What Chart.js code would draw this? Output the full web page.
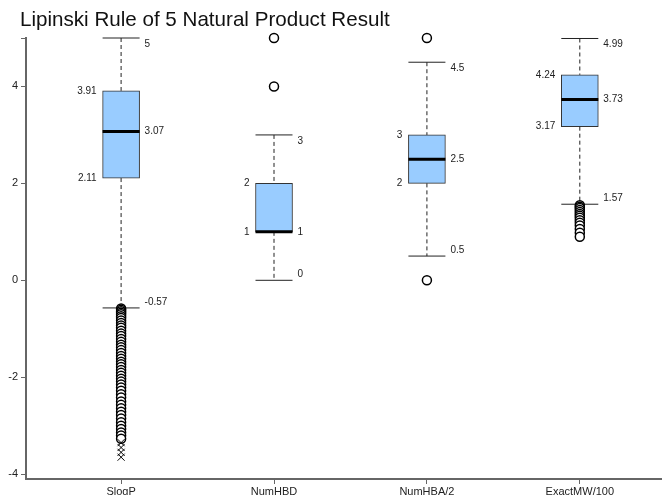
<!DOCTYPE html>
<html>
<head>
<meta charset="utf-8">
<script src="https://cdn.jsdelivr.net/npm/chart.js@4"></script>
<style>
  html, body { margin: 0; padding: 0; background: #fff; }
  #wrap { width: 667px; height: 495px; }
</style>
</head>
<body>
<div id="wrap"><canvas id="boxChart" width="667" height="495"></canvas></div>
<script>
// box statistics per category
const categories = ['SlogP', 'NumHBD', 'NumHBA/2', 'ExactMW/100'];
const whiskerHigh = [5, 3, 4.5, 4.99];
const q3 = [3.91, 2, 3, 4.24];
const median = [3.07, 1, 2.5, 3.73];
const q1 = [2.11, 1, 2, 3.17];
const whiskerLow = [-0.57, 0, 0.5, 1.57];

// outliers (circles) and extreme points (crosses)
const outlierSlogP = [-0.58, -0.61, -0.64, -0.67, -0.7, -0.74, -0.78, -0.83, -0.88, -0.93, -0.98, -1.04, -1.1, -1.15,
  -1.21, -1.27, -1.33, -1.38, -1.44, -1.5, -1.56, -1.62, -1.68, -1.73, -1.79, -1.85, -1.91, -1.97, -2.03, -2.09,
  -2.15, -2.21, -2.28, -2.35, -2.42, -2.5, -2.57, -2.64, -2.71, -2.78, -2.85, -2.93, -3.0, -3.07, -3.14, -3.2, -3.27];
const outlierNumHBD = [4, 5];
const outlierNumHBA = [5, 0];
const outlierExactMW = [1.55, 1.52, 1.49, 1.45, 1.41, 1.37, 1.33, 1.29, 1.24, 1.19, 1.13, 1.06, 0.98, 0.9];
const extremeSlogP = [-3.35, -3.45, -3.55, -3.65];

const yTicks = [-4, -2, 0, 2, 4, 5];
const halfBox = 0.121; // half box width in category units

const outliers = [outlierSlogP, outlierNumHBD, outlierNumHBA, outlierExactMW];

const whiskerPts = [], capPts = [], medianPts = [], circlePts = [], crossPts = [];
categories.forEach((c, i) => {
  const x = i + 1;
  whiskerPts.push({x, y: whiskerHigh[i]}, {x, y: q3[i]}, {x, y: null}, {x, y: q1[i]}, {x, y: whiskerLow[i]}, {x, y: null});
  capPts.push({x: x - halfBox, y: whiskerHigh[i]}, {x: x + halfBox, y: whiskerHigh[i]}, {x, y: null},
              {x: x - halfBox, y: whiskerLow[i]}, {x: x + halfBox, y: whiskerLow[i]}, {x, y: null});
  medianPts.push({x: x - halfBox, y: median[i]}, {x: x + halfBox, y: median[i]}, {x, y: null});
  outliers[i].forEach(v => circlePts.push({x, y: v}));
});
extremeSlogP.forEach(v => crossPts.push({x: 1, y: v}));

const FONT = 'Arial, "Liberation Sans", sans-serif';

const valueLabels = {
  id: 'valueLabels',
  afterDatasetsDraw(chart) {
    const {ctx, scales: {x, y}} = chart;
    ctx.save();
    ctx.font = '10px ' + FONT;
    ctx.fillStyle = '#222';
    ctx.textBaseline = 'middle';
    categories.forEach((c, i) => {
      const right = x.getPixelForValue(i + 1 + halfBox) + 5;
      const left = x.getPixelForValue(i + 1 - halfBox) - 6;
      ctx.textAlign = 'left';
      ctx.fillText(String(whiskerHigh[i]), right, y.getPixelForValue(whiskerHigh[i]) + 6);
      ctx.fillText(String(median[i]), right, y.getPixelForValue(median[i]));
      ctx.fillText(String(whiskerLow[i]), right, y.getPixelForValue(whiskerLow[i]) - 6);
      ctx.textAlign = 'right';
      ctx.fillText(String(q3[i]), left, y.getPixelForValue(q3[i]));
      ctx.fillText(String(q1[i]), left, y.getPixelForValue(q1[i]));
    });
    ctx.restore();
  }
};

const titlePlugin = {
  id: 'leftTitle',
  afterDraw(chart) {
    const ctx = chart.ctx;
    ctx.save();
    ctx.font = '20.6px ' + FONT;
    ctx.fillStyle = '#111';
    ctx.textAlign = 'left';
    ctx.textBaseline = 'alphabetic';
    ctx.fillText('Lipinski Rule of 5 Natural Product Result', 20, 26);
    ctx.restore();
  }
};

new Chart(document.getElementById('boxChart'), {
  type: 'bar',
  data: {
    datasets: [
      { type: 'scatter', data: crossPts, pointStyle: 'crossRot', pointRadius: 5, borderColor: '#000', borderWidth: 1, clip: false, order: 0 },
      { type: 'scatter', data: circlePts, pointStyle: 'circle', pointRadius: 4.5, backgroundColor: '#fff', borderColor: '#000', borderWidth: 1.5, clip: false, order: 1 },
      { type: 'line', data: medianPts, borderColor: '#000', borderWidth: 3, pointRadius: 0, spanGaps: false, clip: false, order: 2 },
      { type: 'line', data: capPts, borderColor: '#222', borderWidth: 1, pointRadius: 0, spanGaps: false, clip: false, order: 3 },
      { type: 'line', data: whiskerPts, borderColor: '#222', borderWidth: 1, borderDash: [4, 3], pointRadius: 0, spanGaps: false, clip: false, order: 4 },
      { type: 'bar', data: categories.map((c, i) => ({x: i + 1, y: [q1[i], q3[i]]})),
        backgroundColor: '#99CCFF', borderColor: '#333', borderWidth: 1, borderSkipped: false, barThickness: 37, order: 5 },
    ]
  },
  options: {
    responsive: false,
    animation: false,
    events: [],
    layout: { padding: { top: 38, right: 0, bottom: 0, left: 0 } },
    plugins: { legend: { display: false }, tooltip: { enabled: false }, title: { display: false } },
    scales: {
      x: {
        type: 'linear', min: 0.378, max: 4.531, offset: false,
        afterBuildTicks: s => { s.ticks = [1, 2, 3, 4].map(v => ({value: v})); },
        afterFit: s => { s.height = 16; },
        ticks: { callback: v => categories[v - 1] || '', font: { size: 11, family: FONT }, color: '#222', padding: 1, maxRotation: 0 },
        grid: { drawOnChartArea: false, offset: false, tickLength: 5, color: '#666' },
        border: { color: '#666', width: 2 }
      },
      y: {
        type: 'linear', min: -4.1, max: 5,
        afterBuildTicks: s => { s.ticks = yTicks.map(v => ({value: v})); },
        afterFit: s => { s.width = 26; },
        ticks: { callback: v => (v === 5 ? '' : String(v)), font: { size: 11, family: FONT }, color: '#222', padding: 3 },
        grid: { drawOnChartArea: false, tickLength: 5, color: '#666' },
        border: { color: '#666', width: 2 }
      }
    }
  },
  plugins: [valueLabels, titlePlugin]
});
</script>
</body>
</html>
